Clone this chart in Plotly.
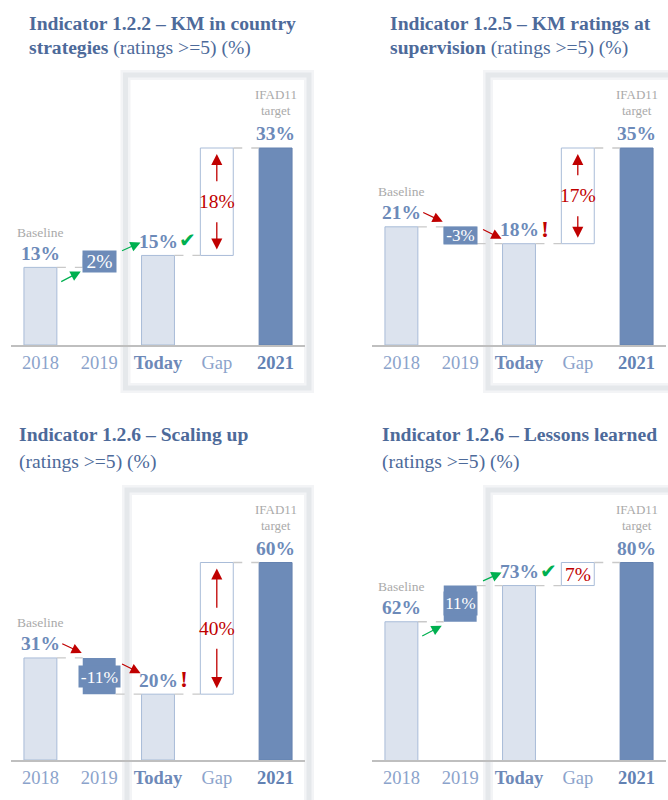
import plotly.graph_objects as go

W, H = 668, 800

# ---- data -------------------------------------------------------------
categories = ["2018", "2019", "Today", "Gap", "2021"]
title_line1 = [
    "Indicator 1.2.2 – KM in country",
    "Indicator 1.2.5 – KM ratings at",
    "Indicator 1.2.6 – Scaling up",
    "Indicator 1.2.6 – Lessons learned",
]
title_line2_bold = ["strategies", "supervision", "", ""]
title_suffix = "(ratings &gt;=5) (%)"
baseline_2018 = [13, 21, 31, 62]
today_value = [15, 18, 20, 73]
target_2021 = [33, 35, 60, 80]

# ---- styling / placement ------------------------------------------------
FONT = "Liberation Serif"
TITLE_C = "#4D6A9A"
VALUE_C = "#6C8AB9"
TICK_C = "#8BA3CB"
LIGHT = "#DCE3EE"
EDGE = "#A9BCD8"
DARK = "#6D8BB8"
GREY_TXT = "#AAAAAA"
RED = "#C00000"
GREEN = "#00B050"
DASH_C = "#C9C9C9"
BW = 0.56

x_dom_px = [(11, 305), (372, 666), (11, 305), (372, 666)]
base_px = [345, 345, 760, 760]
target_px = [148, 148, 562.5, 562.5]
axis_floor = [0, 0, 0, 20]
title_xy = [(27, 23, 48), (388, 23, 48), (17, 435, 462), (380, 435, 462)]
frame_px = [(125.5, 75, 309, 388), (488, 75, 700, 388),
            (127, 490, 309, 830), (488, 490, 700, 830)]
change_box_w = [33, 33, 41, 33]
change_box_h = [21, 17, 21, 23]
change_font = [19.5, 17, 17.5, 17]
link_after_change = [False, True, True, True]
arrow2_lift = [13, 5, 21, 13]

fig = go.Figure()
annotations = []
shapes = []
layout = {}


def px(y):
    return 1 - y / H


# highlight frame around Today / Gap / 2021
for (fx0, fy0, fx1, fy1) in frame_px:
    for lw, col in [(10, "#F3F4F6"), (5, "#E5E8EB")]:
        shapes.append(dict(type="rect", xref="paper", yref="paper",
                           x0=fx0 / W, x1=fx1 / W, y0=px(fy1), y1=px(fy0),
                           line=dict(color=col, width=lw), layer="below"))

tick_text = [
    f"<span style='color:{TICK_C}'>2018</span>",
    f"<span style='color:{TICK_C}'>2019</span>",
    f"<b><span style='color:#6D89B8'>Today</span></b>",
    f"<span style='color:{TICK_C}'>Gap</span>",
    f"<b><span style='color:#6282B3'>2021</span></b>",
]

for i in range(4):
    n = "" if i == 0 else str(i + 1)
    xa, ya = "x" + n, "y" + n
    v0, v1, tg = baseline_2018[i], today_value[i], target_2021[i]
    change = v1 - v0
    gap = tg - v1
    bpx, tpx, lo = base_px[i], target_px[i], axis_floor[i]
    k = (bpx - tpx) / (tg - lo)          # pixels per percentage point
    top_px = bpx - 300
    hi = lo + (bpx - top_px) / k

    # bars
    fig.add_trace(go.Bar(x=[0, 2], y=[v0, v1], width=BW, xaxis=xa, yaxis=ya,
                         marker=dict(color=LIGHT, line=dict(color=EDGE, width=1)),
                         hoverinfo="skip", showlegend=False))
    fig.add_trace(go.Bar(x=[1], y=[abs(change)], base=[min(v0, v1)], width=BW,
                         xaxis=xa, yaxis=ya,
                         marker=dict(color=DARK, line=dict(color=DARK, width=0)),
                         hoverinfo="skip", showlegend=False))
    fig.add_trace(go.Bar(x=[3], y=[gap], base=[v1], width=BW, xaxis=xa, yaxis=ya,
                         marker=dict(color="white", line=dict(color=EDGE, width=1)),
                         hoverinfo="skip", showlegend=False))
    fig.add_trace(go.Bar(x=[4], y=[tg], width=BW, xaxis=xa, yaxis=ya,
                         marker=dict(color=DARK, line=dict(color="#6482B0", width=1)),
                         hoverinfo="skip", showlegend=False))

    layout["xaxis" + n] = dict(
        domain=[x_dom_px[i][0] / W, x_dom_px[i][1] / W], range=[-0.5, 4.5],
        anchor=ya, tickvals=list(range(5)), ticktext=tick_text,
        showgrid=False, zeroline=False, showline=True, linecolor="#BFBFBF",
        linewidth=1.5, ticks="", ticklabelstandoff=0,
        tickfont=dict(family=FONT, size=18.5, color=TICK_C), fixedrange=True)
    layout["yaxis" + n] = dict(domain=[px(bpx), px(top_px)], range=[lo, hi],
                               anchor=xa, visible=False, fixedrange=True)

    def note(x, y, text, size, color, **kw):
        d = dict(x=x, y=y, xref=xa, yref=ya, text=text, showarrow=False,
                 font=dict(family=FONT, size=size, color=color))
        d.update(kw)
        annotations.append(d)

    # dashed connectors
    def dash(x0, x1, y):
        shapes.append(dict(type="line", xref=xa, yref=ya, x0=x0, x1=x1, y0=y, y1=y,
                           line=dict(color=DASH_C, width=1.3, dash="dash")))
    dash(BW / 2, 1 - BW / 2, v0)
    if link_after_change[i]:
        dash(1 + BW / 2, 2 - BW / 2, v1)
    dash(2 + BW / 2, 3 - BW / 2, v1)
    dash(3 + BW / 2, 4 - BW / 2, tg)

    # baseline labels
    note(0, v0, "Baseline", 13.5, GREY_TXT, yanchor="middle", yshift=35)
    note(0, v0, f"<b>{v0}%</b>", 19.5, VALUE_C, yanchor="middle", yshift=14)
    # target labels
    note(4, tg, "IFAD11", 13, GREY_TXT, yanchor="middle", yshift=53.5)
    note(4, tg, "target", 13, GREY_TXT, yanchor="middle", yshift=37.5)
    note(4, tg, f"<b>{tg}%</b>", 19.5, VALUE_C, yanchor="middle", yshift=14.5)
    # today label with status mark
    note(2, v1, f"<b>{v1}%</b>", 19.5, VALUE_C, yanchor="middle", yshift=14)
    if change >= 0:
        annotations.append(dict(x=2, y=v1, xref=xa, yref=ya, text="✔", showarrow=False,
                                xanchor="left", yanchor="middle", xshift=19, yshift=15,
                                font=dict(family="DejaVu Sans", size=20, color=GREEN)))
    else:
        note(2, v1, "<b>!</b>", 24, RED, xanchor="left", yanchor="middle",
             xshift=20, yshift=15)
    # change box
    note(1, (v0 + v1) / 2, f"{change}%", change_font[i], "white",
         bgcolor=DARK, width=change_box_w[i], height=change_box_h[i],
         borderpad=0, yanchor="middle")
    # gap label
    mid = (v1 + tg) / 2
    note(3, mid, f"{gap}%", 19.5, RED, yanchor="middle")
    if gap * k > 60:
        for head, tail in [(tg - 6 / k, mid + 19 / k), (v1 + 6 / k, mid - 19 / k)]:
            annotations.append(dict(x=3, y=head, xref=xa, yref=ya, ax=3, ay=tail,
                                    axref=xa, ayref=ya, text="", showarrow=True,
                                    arrowhead=2, arrowsize=1.7, arrowwidth=1.3,
                                    arrowcolor=RED, standoff=0))

    # movement arrows
    acol = GREEN if change >= 0 else RED
    if change >= 0:
        a1 = dict(x=1 - BW / 2, y=v0, xshift=-2, yshift=-4, ax=-21, ay=11)
    else:
        a1 = dict(x=1 - BW / 2, y=v0, xshift=-1, yshift=5, ax=-21, ay=-10)
    a2 = dict(x=2 - BW / 2, y=v1, xshift=-1, yshift=arrow2_lift[i],
              ax=-20, ay=(9 if change >= 0 else -10))
    for a in (a1, a2):
        a.update(xref=xa, yref=ya, text="", showarrow=True, arrowhead=2,
                 arrowsize=1.7, arrowwidth=1.2, arrowcolor=acol, standoff=0)
        annotations.append(a)

    # panel title
    tx, ty1, ty2 = title_xy[i]
    annotations.append(dict(x=tx / W, y=px(ty1), xref="paper", yref="paper",
                            xanchor="left", yanchor="middle", showarrow=False,
                            text=f"<b>{title_line1[i]}</b>",
                            font=dict(family=FONT, size=19.6, color=TITLE_C)))
    line2 = (f"<b>{title_line2_bold[i]}</b> " if title_line2_bold[i] else "") + title_suffix
    annotations.append(dict(x=tx / W, y=px(ty2), xref="paper", yref="paper",
                            xanchor="left", yanchor="middle", showarrow=False,
                            text=line2,
                            font=dict(family=FONT, size=19.6, color=TITLE_C)))

fig.update_layout(
    width=W, height=H, autosize=False,
    margin=dict(l=0, r=0, t=0, b=0),
    paper_bgcolor="white", plot_bgcolor="rgba(0,0,0,0)",
    barmode="overlay", showlegend=False,
    annotations=annotations, shapes=shapes, **layout)

fig.write_html("out.html", config={"displayModeBar": False})
